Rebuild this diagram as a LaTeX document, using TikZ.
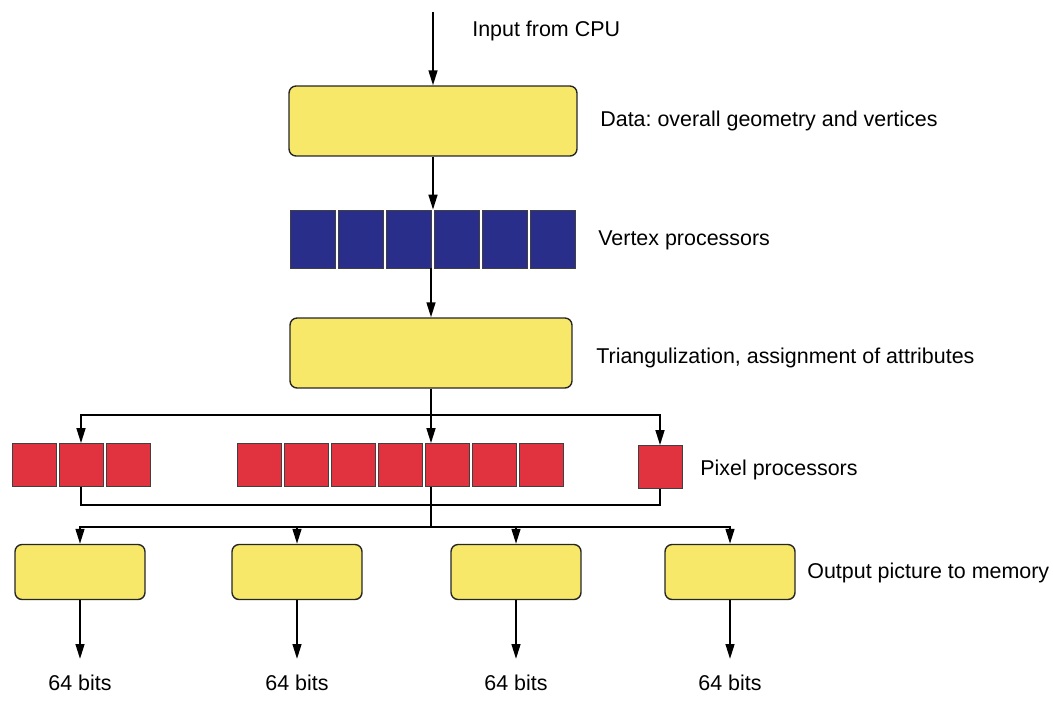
\documentclass[tikz,border=0pt]{standalone}
\usepackage{fontspec}
\setmainfont{Liberation Sans}
\usetikzlibrary{arrows.meta}
\frenchspacing

\definecolor{stageyellow}{RGB}{247,232,106}
\definecolor{vertexblue}{RGB}{40,46,138}
\definecolor{pixelred}{RGB}{224,50,63}

\tikzstyle{stage} = [draw=black!85, fill=stageyellow, thick, rectangle,
  rounded corners=4pt]
\tikzstyle{vproc} = [draw=black!75, fill=vertexblue, rectangle,
  minimum width=0.9cm, minimum height=1.16cm, inner sep=0pt]
\tikzstyle{pproc} = [draw=black!75, fill=pixelred, rectangle,
  minimum width=0.88cm, minimum height=0.86cm, inner sep=0pt]
\tikzstyle{caption} = [anchor=west, inner sep=0pt,
  font=\fontsize{12.2}{14}\selectfont]
\tikzstyle{bitlabel} = [inner sep=3pt, font=\fontsize{12.2}{14}\selectfont]
\tikzstyle{flow} = [-{Triangle[length=8.5pt,width=5pt]}, line width=1.1pt]
\tikzstyle{wire} = [line width=1.1pt]

\begin{document}
\begin{tikzpicture}[x=0.02cm, y=-0.02cm]
        \useasboundingbox (0,0) rectangle (1053,700);

        \coordinate (cpu)    at (433, 12);
        \coordinate (split)  at (431,415);
        \coordinate (gather) at (431,505);
        \coordinate (spread) at (431,527);

        \node [stage, minimum width=5.76cm, minimum height=1.4cm] (data) at (433,121) {};
        \node [stage, minimum width=5.64cm, minimum height=1.4cm] (tri)  at (431,353) {};

        \foreach \i in {1,...,6}
          \node [vproc] (vp\i) at (264.5+48*\i,239) {};
        \foreach \i in {1,2,3}
          \node [pproc] (pl\i) at (-13+47*\i,465) {};
        \foreach \i in {1,...,7}
          \node [pproc] (pm\i) at (212+47*\i,465) {};
        \node [pproc] (ps) at (660,467) {};

        \node [stage, minimum width=2.6cm, minimum height=1.1cm] (out1) at ( 80,572) {};
        \node [stage, minimum width=2.6cm, minimum height=1.1cm] (out2) at (297,572) {};
        \node [stage, minimum width=2.6cm, minimum height=1.1cm] (out3) at (516,572) {};
        \node [stage, minimum width=2.6cm, minimum height=1.1cm] (out4) at (730,572) {};

        \node [bitlabel] (bits1) at ( 80,683) {64 bits};
        \node [bitlabel] (bits2) at (297,683) {64 bits};
        \node [bitlabel] (bits3) at (516,683) {64 bits};
        \node [bitlabel] (bits4) at (730,683) {64 bits};

        \node [caption] (cpulabel)  at (472, 31) {Input from CPU};
        \node [caption] (datalabel) at (600,121) {Data: overall geometry and vertices};
        \node [caption] (vplabel)   at (598,240) {Vertex processors};
        \node [caption] (trilabel)  at (596,358) {Triangulization, assignment of attributes};
        \node [caption] (pplabel)   at (700,470) {Pixel processors};
        \node [caption] (outlabel)  at (807,573) {Output picture to memory};

        \draw[flow] (cpu) -- (data.north);
        \draw[flow] (data.south) -- (data.south |- vp3.north);
        \draw[flow] (tri.north |- vp3.south) -- (tri.north);
        \draw[wire] (tri.south) -- (split);
        \draw[flow] (split) -- (split |- pm5.north);
        \draw[flow] (split) -| (pl2.north);
        \draw[flow] (split) -| (ps.north);
        \draw[wire] (pl2.south) |- (gather) -| (ps.south);
        \draw[wire] (split |- pm5.south) -- (spread);
        \foreach \n in {1,...,4}
          \draw[flow] (spread) -| (out\n.north);
        \foreach \n in {1,...,4}
          \draw[flow, shorten >=6pt] (out\n.south) -- (bits\n.north);
      \end{tikzpicture}
\end{document}
